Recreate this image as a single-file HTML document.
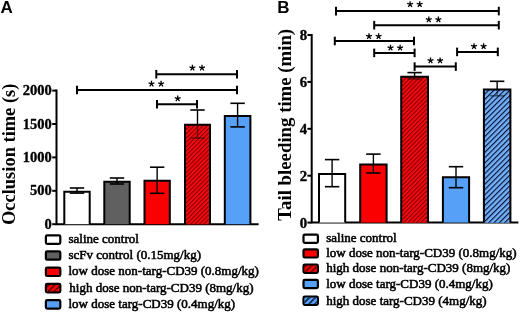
<!DOCTYPE html><html><head><meta charset="utf-8"><style>html,body{margin:0;padding:0;background:#fff;width:520px;height:312px;overflow:hidden}svg{display:block}text{filter:grayscale(1)}</style></head><body>
<svg width="520" height="312" viewBox="0 0 520 312">
<defs>
<pattern id="hr" patternUnits="userSpaceOnUse" width="3.05" height="3.05" patternTransform="rotate(45)"><rect width="3.05" height="3.05" fill="#f80a10"/><rect width="1.1" height="3.05" fill="#800000"/></pattern>
<pattern id="hb" patternUnits="userSpaceOnUse" width="3.75" height="3.75" patternTransform="rotate(45)"><rect width="3.75" height="3.75" fill="#74b0f6"/><rect width="1.15" height="3.75" fill="#061035"/></pattern>
<pattern id="hrl" patternUnits="userSpaceOnUse" width="4.2" height="4.2" patternTransform="rotate(45)"><rect width="4.2" height="4.2" fill="#fb0000"/><rect width="1.5" height="4.2" fill="#5a0000"/></pattern>
<pattern id="hbl" patternUnits="userSpaceOnUse" width="4.2" height="4.2" patternTransform="rotate(45)"><rect width="4.2" height="4.2" fill="#56a0f8"/><rect width="1.5" height="4.2" fill="#0a1530"/></pattern>
</defs>
<rect width="520" height="312" fill="#fff"/>
<text x="0.6" y="13.4" font-family='"Liberation Sans", sans-serif' font-weight="bold" font-size="17">A</text>
<text transform="translate(14.5,154.3) rotate(-90)" text-anchor="middle" font-family='"Liberation Serif", serif' font-weight="bold" font-size="18.45">Occlusion time (s)</text>
<path d="M56.5 89.6V224.2H258.6" fill="none" stroke="#000" stroke-width="2"/>
<line x1="52.2" y1="224.20" x2="56.5" y2="224.20" stroke="#000" stroke-width="2"/>
<text x="51.7" y="228.70" text-anchor="end" font-family='"Liberation Serif", serif' font-weight="bold" font-size="14.5" stroke="#000" stroke-width="0.35">0</text>
<line x1="52.2" y1="190.80" x2="56.5" y2="190.80" stroke="#000" stroke-width="2"/>
<text x="51.7" y="195.30" text-anchor="end" font-family='"Liberation Serif", serif' font-weight="bold" font-size="14.5" stroke="#000" stroke-width="0.35">500</text>
<line x1="52.2" y1="157.40" x2="56.5" y2="157.40" stroke="#000" stroke-width="2"/>
<text x="51.7" y="161.90" text-anchor="end" font-family='"Liberation Serif", serif' font-weight="bold" font-size="14.5" stroke="#000" stroke-width="0.35">1000</text>
<line x1="52.2" y1="124.00" x2="56.5" y2="124.00" stroke="#000" stroke-width="2"/>
<text x="51.7" y="128.50" text-anchor="end" font-family='"Liberation Serif", serif' font-weight="bold" font-size="14.5" stroke="#000" stroke-width="0.35">1500</text>
<line x1="52.2" y1="90.60" x2="56.5" y2="90.60" stroke="#000" stroke-width="2"/>
<text x="51.7" y="95.10" text-anchor="end" font-family='"Liberation Serif", serif' font-weight="bold" font-size="14.5" stroke="#000" stroke-width="0.35">2000</text>
<rect x="64.3" y="191.7" width="25.400000000000006" height="32.5" fill="#fff" stroke="none"/><path d="M64.3 224.2V191.7H89.7V224.2" fill="none" stroke="#000" stroke-width="2.0"/><line x1="77.0" y1="188.0" x2="77.0" y2="191.7" stroke="#000" stroke-width="1.4"/><line x1="77.0" y1="191.7" x2="77.0" y2="193.1" stroke="#000" stroke-width="1.4" opacity="1.0"/><line x1="69.8" y1="188.0" x2="84.2" y2="188.0" stroke="#000" stroke-width="1.6"/><line x1="69.8" y1="193.1" x2="84.2" y2="193.1" stroke="#000" stroke-width="1.6" opacity="1.0"/>
<rect x="104.3" y="181.8" width="25.39999999999999" height="42.39999999999998" fill="#606060" stroke="none"/><path d="M104.3 224.2V181.8H129.7V224.2" fill="none" stroke="#000" stroke-width="2.0"/><line x1="117.0" y1="178.0" x2="117.0" y2="181.8" stroke="#000" stroke-width="1.4"/><line x1="117.0" y1="181.8" x2="117.0" y2="184.0" stroke="#000" stroke-width="1.4" opacity="1.0"/><line x1="109.8" y1="178.0" x2="124.2" y2="178.0" stroke="#000" stroke-width="1.6"/><line x1="109.8" y1="184.0" x2="124.2" y2="184.0" stroke="#000" stroke-width="1.6" opacity="1.0"/>
<rect x="144.5" y="180.8" width="25.30000000000001" height="43.39999999999998" fill="#fb0000" stroke="none"/><path d="M144.5 224.2V180.8H169.8V224.2" fill="none" stroke="#000" stroke-width="2.0"/><line x1="157.15" y1="167.2" x2="157.15" y2="180.8" stroke="#000" stroke-width="1.4"/><line x1="157.15" y1="180.8" x2="157.15" y2="193.3" stroke="#000" stroke-width="1.4" opacity="1.0"/><line x1="149.95000000000002" y1="167.2" x2="164.35" y2="167.2" stroke="#000" stroke-width="1.6"/><line x1="149.95000000000002" y1="193.3" x2="164.35" y2="193.3" stroke="#000" stroke-width="1.6" opacity="1.0"/>
<rect x="185.0" y="124.8" width="25.0" height="99.39999999999999" fill="#fb0000" stroke="none"/><rect x="185.0" y="124.8" width="25.0" height="99.39999999999999" fill="url(#hr)" stroke="none"/><path d="M185.0 224.2V124.8H210.0V224.2" fill="none" stroke="#000" stroke-width="2.0"/><line x1="197.5" y1="110.0" x2="197.5" y2="124.8" stroke="#000" stroke-width="1.4"/><line x1="197.5" y1="124.8" x2="197.5" y2="138.2" stroke="#000" stroke-width="1.4" opacity="0.45"/><line x1="190.3" y1="110.0" x2="204.7" y2="110.0" stroke="#000" stroke-width="1.6"/><line x1="190.3" y1="138.2" x2="204.7" y2="138.2" stroke="#000" stroke-width="1.6" opacity="0.45"/>
<rect x="224.8" y="115.9" width="25.599999999999994" height="108.29999999999998" fill="#56a0f8" stroke="none"/><path d="M224.8 224.2V115.9H250.4V224.2" fill="none" stroke="#000" stroke-width="2.0"/><line x1="237.60000000000002" y1="103.3" x2="237.60000000000002" y2="115.9" stroke="#000" stroke-width="1.4"/><line x1="237.60000000000002" y1="115.9" x2="237.60000000000002" y2="126.9" stroke="#000" stroke-width="1.4" opacity="1.0"/><line x1="230.40000000000003" y1="103.3" x2="244.8" y2="103.3" stroke="#000" stroke-width="1.6"/><line x1="230.40000000000003" y1="126.9" x2="244.8" y2="126.9" stroke="#000" stroke-width="1.6" opacity="1.0"/>
<line x1="156.3" y1="74.2" x2="237.0" y2="74.2" stroke="#000" stroke-width="2.0"/><line x1="156.3" y1="69.9" x2="156.3" y2="78.5" stroke="#000" stroke-width="2"/><line x1="237.0" y1="69.9" x2="237.0" y2="78.5" stroke="#000" stroke-width="2"/><path d="M192.40 67.95L192.40 64.85M192.40 67.95L195.35 66.99M192.40 67.95L194.22 70.46M192.40 67.95L190.58 70.46M192.40 67.95L189.45 66.99" stroke="#000" stroke-width="1.3" stroke-linecap="butt" fill="none"/><path d="M202.00 67.95L202.00 64.85M202.00 67.95L204.95 66.99M202.00 67.95L203.82 70.46M202.00 67.95L200.18 70.46M202.00 67.95L199.05 66.99" stroke="#000" stroke-width="1.3" stroke-linecap="butt" fill="none"/>
<line x1="77.0" y1="90.0" x2="237.0" y2="90.0" stroke="#000" stroke-width="2.0"/><line x1="77.0" y1="85.7" x2="77.0" y2="94.3" stroke="#000" stroke-width="2"/><line x1="237.0" y1="85.7" x2="237.0" y2="94.3" stroke="#000" stroke-width="2"/><path d="M151.50 83.75L151.50 80.65M151.50 83.75L154.45 82.79M151.50 83.75L153.32 86.26M151.50 83.75L149.68 86.26M151.50 83.75L148.55 82.79" stroke="#000" stroke-width="1.3" stroke-linecap="butt" fill="none"/><path d="M161.10 83.75L161.10 80.65M161.10 83.75L164.05 82.79M161.10 83.75L162.92 86.26M161.10 83.75L159.28 86.26M161.10 83.75L158.15 82.79" stroke="#000" stroke-width="1.3" stroke-linecap="butt" fill="none"/>
<line x1="157.0" y1="104.3" x2="197.0" y2="104.3" stroke="#000" stroke-width="2.0"/><line x1="157.0" y1="100.0" x2="157.0" y2="108.6" stroke="#000" stroke-width="2"/><line x1="197.0" y1="100.0" x2="197.0" y2="108.6" stroke="#000" stroke-width="2"/><path d="M177.70 98.55L177.70 95.45M177.70 98.55L180.65 97.59M177.70 98.55L179.52 101.06M177.70 98.55L175.88 101.06M177.70 98.55L174.75 97.59" stroke="#000" stroke-width="1.3" stroke-linecap="butt" fill="none"/>
<rect x="45.9" y="235.4" width="14.400000000000002" height="8.399999999999999" rx="1.3" fill="#fff" stroke="#000" stroke-width="2.2"/>
<text x="68.5" y="242.90" font-family='"Liberation Serif", serif' font-size="13" stroke="#000" stroke-width="0.55">saline control</text>
<rect x="45.9" y="251.29999999999998" width="14.400000000000002" height="8.399999999999999" rx="1.3" fill="#606060" stroke="#000" stroke-width="2.2"/>
<text x="68.5" y="258.80" font-family='"Liberation Serif", serif' font-size="13" stroke="#000" stroke-width="0.55">scFv control (0.15mg/kg)</text>
<rect x="45.9" y="267.6" width="14.400000000000002" height="8.399999999999999" rx="1.3" fill="#fb0000" stroke="#000" stroke-width="2.2"/>
<text x="68.5" y="275.10" font-family='"Liberation Serif", serif' font-size="13" stroke="#000" stroke-width="0.55">low dose non-targ-CD39 (0.8mg/kg)</text>
<rect x="45.9" y="283.90000000000003" width="14.400000000000002" height="8.399999999999999" rx="1.3" fill="#fb0000" stroke="#000" stroke-width="2.2"/><rect x="47.0" y="285.0" width="12.200000000000001" height="6.199999999999999" fill="url(#hrl)"/>
<text x="69.3" y="291.90" font-family='"Liberation Serif", serif' font-size="13" stroke="#000" stroke-width="0.55">high dose non-targ-CD39 (8mg/kg)</text>
<rect x="45.9" y="300.20000000000005" width="14.400000000000002" height="8.399999999999999" rx="1.3" fill="#56a0f8" stroke="#000" stroke-width="2.2"/>
<text x="68.5" y="307.70" font-family='"Liberation Serif", serif' font-size="13" stroke="#000" stroke-width="0.55">low dose targ-CD39 (0.4mg/kg)</text>
<text x="277.2" y="13.4" font-family='"Liberation Sans", sans-serif' font-weight="bold" font-size="17">B</text>
<text transform="translate(290.8,124.8) rotate(-90)" text-anchor="middle" font-family='"Liberation Serif", serif' font-weight="bold" font-size="18.8">Tail bleeding time (min)</text>
<path d="M311.7 34.0V222.6H518.4" fill="none" stroke="#000" stroke-width="2"/>
<line x1="307.4" y1="222.60" x2="311.7" y2="222.60" stroke="#000" stroke-width="2"/>
<text x="307.1" y="227.80" text-anchor="end" font-family='"Liberation Serif", serif' font-weight="bold" font-size="14.8" stroke="#000" stroke-width="0.35">0</text>
<line x1="307.4" y1="175.70" x2="311.7" y2="175.70" stroke="#000" stroke-width="2"/>
<text x="307.1" y="180.90" text-anchor="end" font-family='"Liberation Serif", serif' font-weight="bold" font-size="14.8" stroke="#000" stroke-width="0.35">2</text>
<line x1="307.4" y1="128.80" x2="311.7" y2="128.80" stroke="#000" stroke-width="2"/>
<text x="307.1" y="134.00" text-anchor="end" font-family='"Liberation Serif", serif' font-weight="bold" font-size="14.8" stroke="#000" stroke-width="0.35">4</text>
<line x1="307.4" y1="81.90" x2="311.7" y2="81.90" stroke="#000" stroke-width="2"/>
<text x="307.1" y="87.10" text-anchor="end" font-family='"Liberation Serif", serif' font-weight="bold" font-size="14.8" stroke="#000" stroke-width="0.35">6</text>
<line x1="307.4" y1="35.00" x2="311.7" y2="35.00" stroke="#000" stroke-width="2"/>
<text x="307.1" y="40.20" text-anchor="end" font-family='"Liberation Serif", serif' font-weight="bold" font-size="14.8" stroke="#000" stroke-width="0.35">8</text>
<rect x="319.0" y="174.1" width="26.19999999999999" height="48.5" fill="#fff" stroke="none"/><path d="M319.0 222.6V174.1H345.2V222.6" fill="none" stroke="#000" stroke-width="2.0"/><line x1="332.1" y1="159.6" x2="332.1" y2="174.1" stroke="#000" stroke-width="1.4"/><line x1="332.1" y1="174.1" x2="332.1" y2="186.7" stroke="#000" stroke-width="1.4" opacity="1.0"/><line x1="324.90000000000003" y1="159.6" x2="339.3" y2="159.6" stroke="#000" stroke-width="1.6"/><line x1="324.90000000000003" y1="186.7" x2="339.3" y2="186.7" stroke="#000" stroke-width="1.6" opacity="1.0"/>
<rect x="360.2" y="164.5" width="26.400000000000034" height="58.099999999999994" fill="#fb0000" stroke="none"/><path d="M360.2 222.6V164.5H386.6V222.6" fill="none" stroke="#000" stroke-width="2.0"/><line x1="373.4" y1="154.1" x2="373.4" y2="164.5" stroke="#000" stroke-width="1.4"/><line x1="373.4" y1="164.5" x2="373.4" y2="173.0" stroke="#000" stroke-width="1.4" opacity="1.0"/><line x1="366.2" y1="154.1" x2="380.59999999999997" y2="154.1" stroke="#000" stroke-width="1.6"/><line x1="366.2" y1="173.0" x2="380.59999999999997" y2="173.0" stroke="#000" stroke-width="1.6" opacity="1.0"/>
<rect x="401.2" y="76.7" width="26.80000000000001" height="145.89999999999998" fill="#fb0000" stroke="none"/><rect x="401.2" y="76.7" width="26.80000000000001" height="145.89999999999998" fill="url(#hr)" stroke="none"/><path d="M401.2 222.6V76.7H428.0V222.6" fill="none" stroke="#000" stroke-width="2.0"/><line x1="414.6" y1="72.6" x2="414.6" y2="76.7" stroke="#000" stroke-width="1.4"/><line x1="414.6" y1="76.7" x2="414.6" y2="79.0" stroke="#000" stroke-width="1.4" opacity="0.45"/><line x1="407.40000000000003" y1="72.6" x2="421.8" y2="72.6" stroke="#000" stroke-width="1.6"/><line x1="407.40000000000003" y1="79.0" x2="421.8" y2="79.0" stroke="#000" stroke-width="1.6" opacity="0.45"/>
<rect x="442.9" y="177.2" width="26.200000000000045" height="45.400000000000006" fill="#56a0f8" stroke="none"/><path d="M442.9 222.6V177.2H469.1V222.6" fill="none" stroke="#000" stroke-width="2.0"/><line x1="456.0" y1="166.7" x2="456.0" y2="177.2" stroke="#000" stroke-width="1.4"/><line x1="456.0" y1="177.2" x2="456.0" y2="187.7" stroke="#000" stroke-width="1.4" opacity="1.0"/><line x1="448.8" y1="166.7" x2="463.2" y2="166.7" stroke="#000" stroke-width="1.6"/><line x1="448.8" y1="187.7" x2="463.2" y2="187.7" stroke="#000" stroke-width="1.6" opacity="1.0"/>
<rect x="483.9" y="89.5" width="26.5" height="133.1" fill="#56a0f8" stroke="none"/><rect x="483.9" y="89.5" width="26.5" height="133.1" fill="url(#hb)" stroke="none"/><path d="M483.9 222.6V89.5H510.4V222.6" fill="none" stroke="#000" stroke-width="2.0"/><line x1="497.15" y1="81.3" x2="497.15" y2="89.5" stroke="#000" stroke-width="1.4"/><line x1="497.15" y1="89.5" x2="497.15" y2="95.8" stroke="#000" stroke-width="1.4" opacity="0.45"/><line x1="489.95" y1="81.3" x2="504.34999999999997" y2="81.3" stroke="#000" stroke-width="1.6"/><line x1="489.95" y1="95.8" x2="504.34999999999997" y2="95.8" stroke="#000" stroke-width="1.6" opacity="0.45"/>
<line x1="336.0" y1="11.1" x2="498.8" y2="11.1" stroke="#000" stroke-width="2.0"/><line x1="336.0" y1="6.8" x2="336.0" y2="15.399999999999999" stroke="#000" stroke-width="2"/><line x1="498.8" y1="6.8" x2="498.8" y2="15.399999999999999" stroke="#000" stroke-width="2"/><path d="M410.10 4.25L410.10 1.15M410.10 4.25L413.05 3.29M410.10 4.25L411.92 6.76M410.10 4.25L408.28 6.76M410.10 4.25L407.15 3.29" stroke="#000" stroke-width="1.3" stroke-linecap="butt" fill="none"/><path d="M419.70 4.25L419.70 1.15M419.70 4.25L422.65 3.29M419.70 4.25L421.52 6.76M419.70 4.25L417.88 6.76M419.70 4.25L416.75 3.29" stroke="#000" stroke-width="1.3" stroke-linecap="butt" fill="none"/>
<line x1="374.2" y1="25.2" x2="498.8" y2="25.2" stroke="#000" stroke-width="2.0"/><line x1="374.2" y1="20.9" x2="374.2" y2="29.5" stroke="#000" stroke-width="2"/><line x1="498.8" y1="20.9" x2="498.8" y2="29.5" stroke="#000" stroke-width="2"/><path d="M428.80 19.55L428.80 16.45M428.80 19.55L431.75 18.59M428.80 19.55L430.62 22.06M428.80 19.55L426.98 22.06M428.80 19.55L425.85 18.59" stroke="#000" stroke-width="1.3" stroke-linecap="butt" fill="none"/><path d="M438.40 19.55L438.40 16.45M438.40 19.55L441.35 18.59M438.40 19.55L440.22 22.06M438.40 19.55L436.58 22.06M438.40 19.55L435.45 18.59" stroke="#000" stroke-width="1.3" stroke-linecap="butt" fill="none"/>
<line x1="334.8" y1="41.0" x2="414.0" y2="41.0" stroke="#000" stroke-width="2.0"/><line x1="334.8" y1="36.7" x2="334.8" y2="45.3" stroke="#000" stroke-width="2"/><line x1="414.0" y1="36.7" x2="414.0" y2="45.3" stroke="#000" stroke-width="2"/><path d="M369.00 36.35L369.00 33.25M369.00 36.35L371.95 35.39M369.00 36.35L370.82 38.86M369.00 36.35L367.18 38.86M369.00 36.35L366.05 35.39" stroke="#000" stroke-width="1.3" stroke-linecap="butt" fill="none"/><path d="M378.60 36.35L378.60 33.25M378.60 36.35L381.55 35.39M378.60 36.35L380.42 38.86M378.60 36.35L376.78 38.86M378.60 36.35L375.65 35.39" stroke="#000" stroke-width="1.3" stroke-linecap="butt" fill="none"/>
<line x1="374.2" y1="52.9" x2="414.6" y2="52.9" stroke="#000" stroke-width="2.0"/><line x1="374.2" y1="48.6" x2="374.2" y2="57.199999999999996" stroke="#000" stroke-width="2"/><line x1="414.6" y1="48.6" x2="414.6" y2="57.199999999999996" stroke="#000" stroke-width="2"/><path d="M390.50 47.85L390.50 44.75M390.50 47.85L393.45 46.89M390.50 47.85L392.32 50.36M390.50 47.85L388.68 50.36M390.50 47.85L387.55 46.89" stroke="#000" stroke-width="1.3" stroke-linecap="butt" fill="none"/><path d="M400.10 47.85L400.10 44.75M400.10 47.85L403.05 46.89M400.10 47.85L401.92 50.36M400.10 47.85L398.28 50.36M400.10 47.85L397.15 46.89" stroke="#000" stroke-width="1.3" stroke-linecap="butt" fill="none"/>
<line x1="457.1" y1="51.9" x2="497.8" y2="51.9" stroke="#000" stroke-width="2.0"/><line x1="457.1" y1="47.6" x2="457.1" y2="56.199999999999996" stroke="#000" stroke-width="2"/><line x1="497.8" y1="47.6" x2="497.8" y2="56.199999999999996" stroke="#000" stroke-width="2"/><path d="M474.00 46.35L474.00 43.25M474.00 46.35L476.95 45.39M474.00 46.35L475.82 48.86M474.00 46.35L472.18 48.86M474.00 46.35L471.05 45.39" stroke="#000" stroke-width="1.3" stroke-linecap="butt" fill="none"/><path d="M483.60 46.35L483.60 43.25M483.60 46.35L486.55 45.39M483.60 46.35L485.42 48.86M483.60 46.35L481.78 48.86M483.60 46.35L480.65 45.39" stroke="#000" stroke-width="1.3" stroke-linecap="butt" fill="none"/>
<line x1="414.6" y1="66.6" x2="455.8" y2="66.6" stroke="#000" stroke-width="2.0"/><line x1="414.6" y1="62.3" x2="414.6" y2="70.89999999999999" stroke="#000" stroke-width="2"/><line x1="455.8" y1="62.3" x2="455.8" y2="70.89999999999999" stroke="#000" stroke-width="2"/><path d="M430.50 60.65L430.50 57.55M430.50 60.65L433.45 59.69M430.50 60.65L432.32 63.16M430.50 60.65L428.68 63.16M430.50 60.65L427.55 59.69" stroke="#000" stroke-width="1.3" stroke-linecap="butt" fill="none"/><path d="M440.10 60.65L440.10 57.55M440.10 60.65L443.05 59.69M440.10 60.65L441.92 63.16M440.10 60.65L438.28 63.16M440.10 60.65L437.15 59.69" stroke="#000" stroke-width="1.3" stroke-linecap="butt" fill="none"/>
<rect x="303.5" y="234.6" width="14.400000000000002" height="8.2" rx="1.3" fill="#fff" stroke="#000" stroke-width="2.2"/>
<text x="326.2" y="241.50" font-family='"Liberation Serif", serif' font-size="13" stroke="#000" stroke-width="0.55">saline control</text>
<rect x="303.5" y="249.29999999999998" width="14.400000000000002" height="8.2" rx="1.3" fill="#fb0000" stroke="#000" stroke-width="2.2"/>
<text x="326.2" y="256.50" font-family='"Liberation Serif", serif' font-size="13" stroke="#000" stroke-width="0.55">low dose non-targ-CD39 (0.8mg/kg)</text>
<rect x="303.5" y="264.6" width="14.400000000000002" height="8.2" rx="1.3" fill="#fb0000" stroke="#000" stroke-width="2.2"/><rect x="304.59999999999997" y="265.7" width="12.200000000000001" height="6.0" fill="url(#hrl)"/>
<text x="326.2" y="272.00" font-family='"Liberation Serif", serif' font-size="13" stroke="#000" stroke-width="0.55">high dose non-targ-CD39 (8mg/kg)</text>
<rect x="303.5" y="279.90000000000003" width="14.400000000000002" height="8.2" rx="1.3" fill="#56a0f8" stroke="#000" stroke-width="2.2"/>
<text x="326.2" y="287.50" font-family='"Liberation Serif", serif' font-size="13" stroke="#000" stroke-width="0.55">low dose targ-CD39 (0.4mg/kg)</text>
<rect x="303.5" y="296.6" width="14.400000000000002" height="8.2" rx="1.3" fill="#56a0f8" stroke="#000" stroke-width="2.2"/><rect x="304.59999999999997" y="297.7" width="12.200000000000001" height="6.0" fill="url(#hbl)"/>
<text x="326.2" y="304.50" font-family='"Liberation Serif", serif' font-size="13" stroke="#000" stroke-width="0.55">high dose targ-CD39 (4mg/kg)</text>
</svg></body></html>
